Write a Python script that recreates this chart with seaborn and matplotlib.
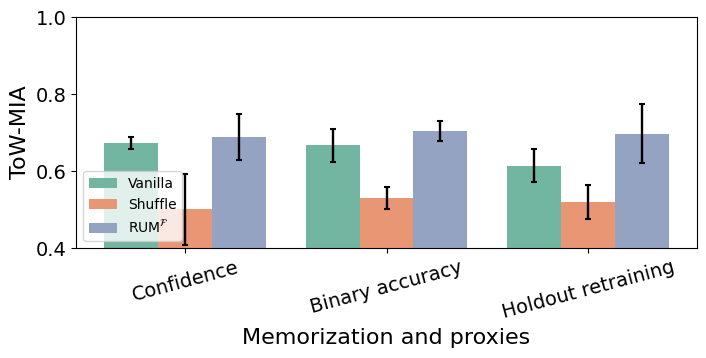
import numpy as np
import pandas as pd
import matplotlib
matplotlib.use("Agg")
import matplotlib.pyplot as plt
import seaborn as sns

proxies = ["Confidence", "Binary accuracy", "Holdout retraining"]
methods = ["Vanilla", "Shuffle", r"RUM$^{\mathcal{F}}$"]

vanilla_mean = [0.673, 0.667, 0.614]
shuffle_mean = [0.501, 0.530, 0.520]
rum_mean = [0.689, 0.704, 0.697]

vanilla_err = [0.015, 0.043, 0.043]
shuffle_err = [0.092, 0.029, 0.045]
rum_err = [0.059, 0.027, 0.077]

means = [vanilla_mean, shuffle_mean, rum_mean]
errs = [vanilla_err, shuffle_err, rum_err]

rows = []
for m, mv, ev in zip(methods, means, errs):
    for p, v, e in zip(proxies, mv, ev):
        rows.append({"proxy": p, "method": m, "value": v, "err": e})
df = pd.DataFrame(rows)

fig, ax = plt.subplots(figsize=(7.06, 3.58), dpi=100)
fig.subplots_adjust(left=0.108, right=0.987, top=0.9525, bottom=0.307)

sns.barplot(data=df, x="proxy", y="value", hue="method", palette="Set2",
            errorbar=None, ax=ax)

# error bars on top of each bar, in the same order seaborn drew them
bar_patches = [p for p in ax.patches if p.get_height() > 0][:len(df)]
for patch, (_, row) in zip(bar_patches, df.iterrows()):
    cx = patch.get_x() + patch.get_width() / 2
    ax.errorbar(cx, patch.get_height(), yerr=row["err"], color="black",
                capsize=2.5, elinewidth=1.7, capthick=1.5, fmt="none")

ax.set_ylim(0.4, 1.0)
ax.set_xlim(-0.54, 2.54)
ax.set_yticks([0.4, 0.6, 0.8, 1.0])
ax.tick_params(axis="y", labelsize=14)
ax.tick_params(axis="x", labelsize=14, rotation=15)
ax.set_xlabel("Memorization and proxies", fontsize=16)
ax.set_ylabel("ToW-MIA", fontsize=16)
ax.legend(loc="lower left", fontsize=10, title=None)

fig.savefig("out.png", dpi=100)
